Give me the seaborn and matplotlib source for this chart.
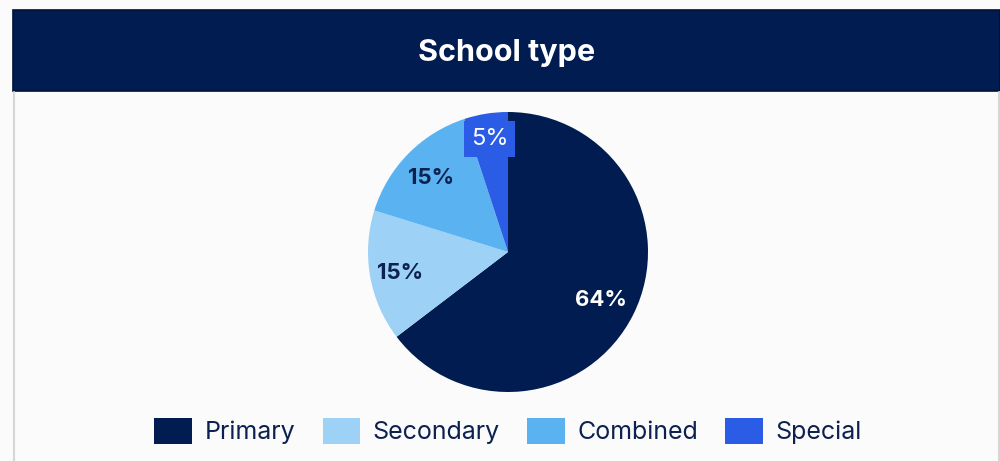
import matplotlib
matplotlib.use("Agg")
import matplotlib.pyplot as plt
import seaborn as sns
import numpy as np
from matplotlib.patches import Rectangle, Patch
from matplotlib.lines import Line2D

# School type breakdown (percent of schools)
categories = ["Primary", "Secondary", "Combined", "Special"]
shares = [64, 15, 15, 5]
colors = ["#001c50", "#9dd1f6", "#5ab3f0", "#2b5ce6"]
title = "School type"

NAVY = "#001c50"
TEXT = "#0d2150"

sns.set_theme(style="white")
plt.rcParams["font.family"] = ["Inter", "DejaVu Sans"]

W, H = 1000, 461
fig = plt.figure(figsize=(W / 100, H / 100), dpi=100)
fig.patch.set_facecolor("#fbfbfb")

def fx(px):
    return px / W

def fy(py):
    return 1 - py / H

# panel borders
fig.add_artist(Line2D([fx(13.5), fx(13.5)], [fy(92), 0], color="#d6d6d6", lw=1.5))
fig.add_artist(Line2D([fx(998.5), fx(998.5)], [fy(92), 0], color="#d6d6d6", lw=1.5))

# header band
fig.add_artist(Rectangle((fx(13), fy(91)), fx(1000) - fx(13), fy(10) - fy(91),
                         transform=fig.transFigure, facecolor=NAVY,
                         edgecolor="#00123a", lw=1.2))
fig.text(fx(507), fy(53), title, color="white", fontsize=22, fontweight="bold",
         ha="center", va="center")

# pie
cx, cy, r = 508, 252, 140
ax = fig.add_axes([fx(cx - r), fy(cy + r), fx(2 * r), (2 * r) / H])
wedges, _ = ax.pie(shares, colors=colors, startangle=90, counterclock=False,
                   radius=1, wedgeprops=dict(linewidth=0))
ax.set_xlim(-1, 1)
ax.set_ylim(-1, 1)
ax.set_aspect("equal")
ax.axis("off")

label_r = [0.74, 0.78, 0.77, 0.83]
label_color = ["white", TEXT, TEXT, "white"]
label_weight = ["bold", "bold", "bold", "normal"]
for w, v, lr, c, wt in zip(wedges, shares, label_r, label_color, label_weight):
    ang = np.deg2rad((w.theta1 + w.theta2) / 2)
    x, y = lr * np.cos(ang), lr * np.sin(ang) - 0.015
    kw = {}
    size = 16
    if wt == "normal":
        size = 17
        kw["bbox"] = dict(boxstyle="square,pad=0.3", fc=w.get_facecolor(), ec="none")
    ax.text(x, y, f"{v}%", color=c, fontsize=size, fontweight=wt,
            ha="center", va="center", **kw)

# legend
handles = [Patch(facecolor=c, edgecolor="none", label=l) for c, l in zip(colors, categories)]
leg = fig.legend(handles=handles, loc="center", bbox_to_anchor=(fx(508), fy(431)),
                 ncol=4, frameon=False, fontsize=18, handlelength=1.5,
                 handleheight=1.2, handletextpad=0.5, columnspacing=1.1,
                 labelcolor=TEXT)

fig.savefig("out.png", dpi=100, facecolor=fig.get_facecolor())
